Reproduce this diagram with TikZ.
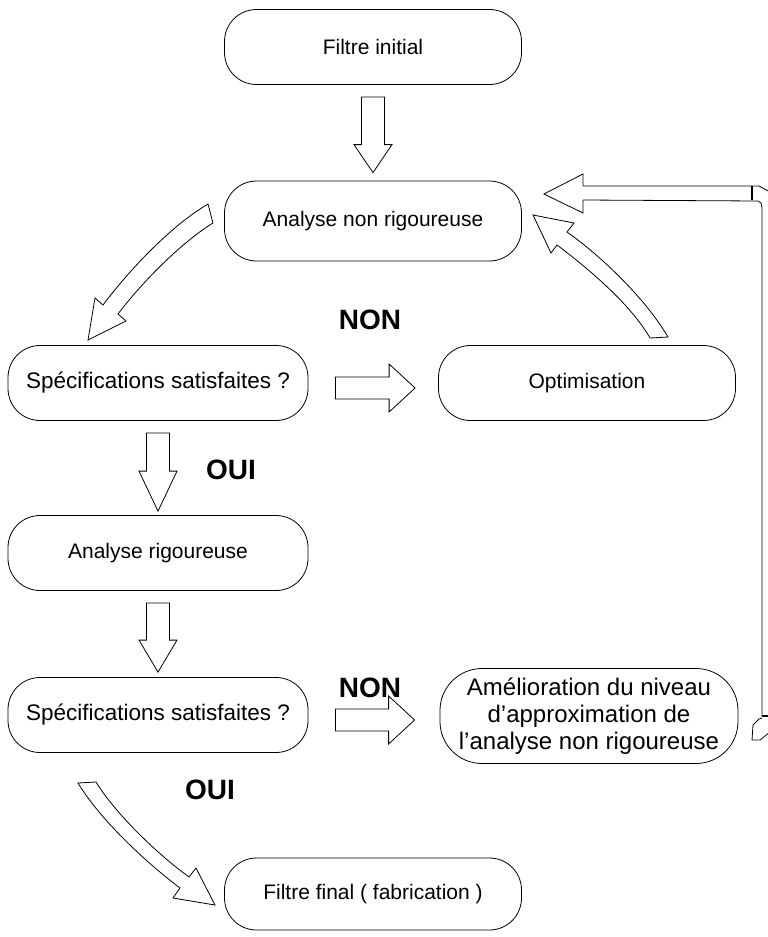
\documentclass[tikz,border=0pt]{standalone}
\usepackage{fontspec}
\setmainfont{Liberation Sans}
\usetikzlibrary{calc}
\tikzset{
  box/.style={draw, line width=0.8pt, rounded corners=32pt, minimum width=297pt, minimum height=75pt, inner sep=0pt, align=center, font=\fontsize{21}{27}\selectfont},
  specfont/.style={font=\fontsize{22.5}{27}\selectfont},
  lbl/.style={font=\bfseries\fontsize{28}{30}\selectfont, inner sep=0pt},
  blk/.style={draw, line width=0.8pt, line join=miter, fill=white},
  fb/.style={line width=0.8pt},
  fbthick/.style={line width=2.2pt}
}
\newcommand\blockarrow[5]{%
  \coordinate (ba-h) at ($(#2)!#5!(#1)$);
  \draw[blk] ($(#1)!#3!90:(#2)$) -- ($(ba-h)!#3!90:(#2)$) -- ($(ba-h)!#4!90:(#2)$) -- (#2)
    -- ($(ba-h)!#4!-90:(#2)$) -- ($(ba-h)!#3!-90:(#2)$) -- ($(#1)!#3!-90:(#2)$) -- cycle;
}
\begin{document}
\begin{tikzpicture}[x=1pt,y=-1pt]
\useasboundingbox (0,0) rectangle (768,937);

% nodes
\node[box] (fi) at (373,47) {Filtre initial};
\node[box, minimum height=80pt] (an) at (373,221) {Analyse non rigoureuse};
\node[box, specfont, minimum width=300pt] (s1) at (158,383) {Spécifications satisfaites ?};
\node[box] (op) at (587,383) {Optimisation};
\node[box, minimum width=300pt] (ar) at (158,553) {Analyse rigoureuse};
\node[box, specfont, minimum width=300pt] (s2) at (158,715) {Spécifications satisfaites ?};
\node[box, minimum width=298pt, minimum height=95pt, rounded corners=42pt, font=\fontsize{24}{27}\selectfont] (am) at (589,716)
  {Amélioration du niveau\\d’approximation de\\l’analyse non rigoureuse};
\node[box, minimum height=72pt] (ff) at (373,894) {Filtre final ( fabrication )};

% labels
\node[lbl] (non1) at (370,320) {NON};
\node[lbl] (oui1) at (231,470) {OUI};
\node[lbl] (non2) at (370,688) {NON};
\node[lbl] (oui2) at (210,790) {OUI};

% straight block arrows
\coordinate (a1t) at ($(fi.south)+(0,12)$);
\coordinate (a1h) at ($(an.north)+(0,-8)$);
\blockarrow{a1t}{a1h}{11.5pt}{19pt}{28pt}
\coordinate (a2t) at ($(s1.south)+(0,12)$);
\coordinate (a2h) at ($(ar.north)+(0,-4)$);
\blockarrow{a2t}{a2h}{11.5pt}{19pt}{40pt}
\coordinate (a3t) at ($(ar.south)+(0,12)$);
\coordinate (a3h) at ($(s2.north)+(0,-5)$);
\blockarrow{a3t}{a3h}{11.5pt}{19pt}{32pt}
\coordinate (a4t) at ($(s1.east)+(27,5)$);
\coordinate (a4h) at ($(op.west)+(-23,5)$);
\blockarrow{a4t}{a4h}{11pt}{24pt}{26pt}
\coordinate (a5t) at ($(s2.east)+(27,5)$);
\coordinate (a5h) at ($(am.west)+(-25,4)$);
\blockarrow{a5t}{a5h}{11pt}{24pt}{26pt}

% curved block arrow: analyse non rigoureuse -> specifications
\draw[blk] (208,204) .. controls (169,227) and (127,273) .. (103,305)
  -- (95,298) -- (88,340) -- (126,321) -- (118,314)
  .. controls (139,286) and (179,244) .. (213,223) -- cycle;

% curved block arrow: optimisation -> analyse non rigoureuse
\draw[blk] (668,337) .. controls (645,298) and (601,256) .. (567,232)
  -- (574,223) -- (533,215) -- (551,253) -- (557,245)
  .. controls (585,266) and (630,303) .. (650,338) -- cycle;

% curved block arrow: specifications -> filtre final
\draw[blk] (78,783) .. controls (101,821) and (148,864) .. (180,888)
  -- (173,898) -- (215,905) -- (196,868) -- (189,877)
  .. controls (160,856) and (117,816) .. (96,782) -- cycle;

% feedback loop: amelioration -> analyse non rigoureuse
\begin{scope}
\clip (0,0) rectangle (768,937);
\coordinate (fbtip) at ($(an.east)+(22,-27)$);
\draw[fb, fill=white, line join=miter] (583,186) -- (583,174) -- (fbtip) -- (583,213) -- (583,200);
\draw[fb] (583,186) -- (759,186) -- (772,193);
\draw[fb] (583,200) -- (758,201) -- (761,203) -- (762,208) -- (762,716);
\draw[fbthick] (752,186) -- (752,200);
\draw[fbthick] (762,716) -- (770,716);
\draw[fb] (762,718) -- (759,719) -- (753,725) -- (752,740) -- (760,740) -- (770,732);
\end{scope}
\end{tikzpicture}
\end{document}
